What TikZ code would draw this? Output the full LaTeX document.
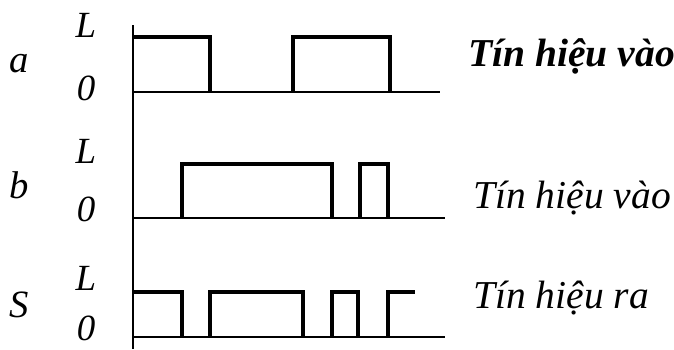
\documentclass[tikz,border=0pt]{standalone}
\usepackage{fontspec}
\setmainfont{Liberation Serif}
\usepackage{tikz}
\usetikzlibrary{positioning}

\begin{document}
\begin{tikzpicture}[x=0.02cm, y=-0.02cm,
  axl/.style={line width=0.75pt, black},
  wav/.style={line width=2.8pt, black, line join=miter},
  lvl/.style={anchor=base, inner sep=0pt,
              font=\fontsize{21}{24}\selectfont\itshape},
  sname/.style={anchor=base, inner sep=0pt,
                font=\fontsize{22}{25}\selectfont\itshape},
  tbox/.style={anchor=base west, inner sep=0pt,
               font=\fontsize{22.5}{26}\selectfont\itshape}
]
\useasboundingbox (0,0) rectangle (674,349);

% Axes
\draw[axl] (133,25) -- (133,349);
\draw[axl] (133,92)  -- (440,92);
\draw[axl] (133,218) -- (445,218);
\draw[axl] (133,337) -- (445,337);

% Signal names and levels
\node[sname] (na) at (19,72)  {a};
\node[sname] (nb) at (19,198) {b};
\node[sname] (ns) at (19,317) {S};

\node[lvl] (la) at (86,37)  {L};
\node[lvl] (za) at (86,100) {0};
\node[lvl] (lb) at (86,163) {L};
\node[lvl] (zb) at (86,221) {0};
\node[lvl] (ls) at (86,290) {L};
\node[lvl] (zs) at (86,340) {0};

% Waveform a
\draw[wav] (133,37) -- (210,37) -- (210,92);
\draw[wav] (293,92) -- (293,37) -- (390,37) -- (390,92);

% Waveform b
\draw[wav] (182,218) -- (182,164) -- (332,164) -- (332,218);
\draw[wav] (360,218) -- (360,164) -- (388,164) -- (388,218);

% Waveform S
\draw[wav] (133,292) -- (182,292) -- (182,337);
\draw[wav] (210,337) -- (210,292) -- (303,292) -- (303,337);
\draw[wav] (332,337) -- (332,292) -- (358,292) -- (358,337);
\draw[wav] (388,337) -- (388,292) -- (415,292);

% Captions
\node[tbox, font=\fontsize{22.5}{26}\selectfont\bfseries\itshape]
  (ta) at (468,66) {Tín hiệu vào};
\node[tbox] (tb) at (473,208) {Tín hiệu vào};
\node[tbox] (ts) at (473,308) {Tín hiệu ra};
\end{tikzpicture}
\end{document}
